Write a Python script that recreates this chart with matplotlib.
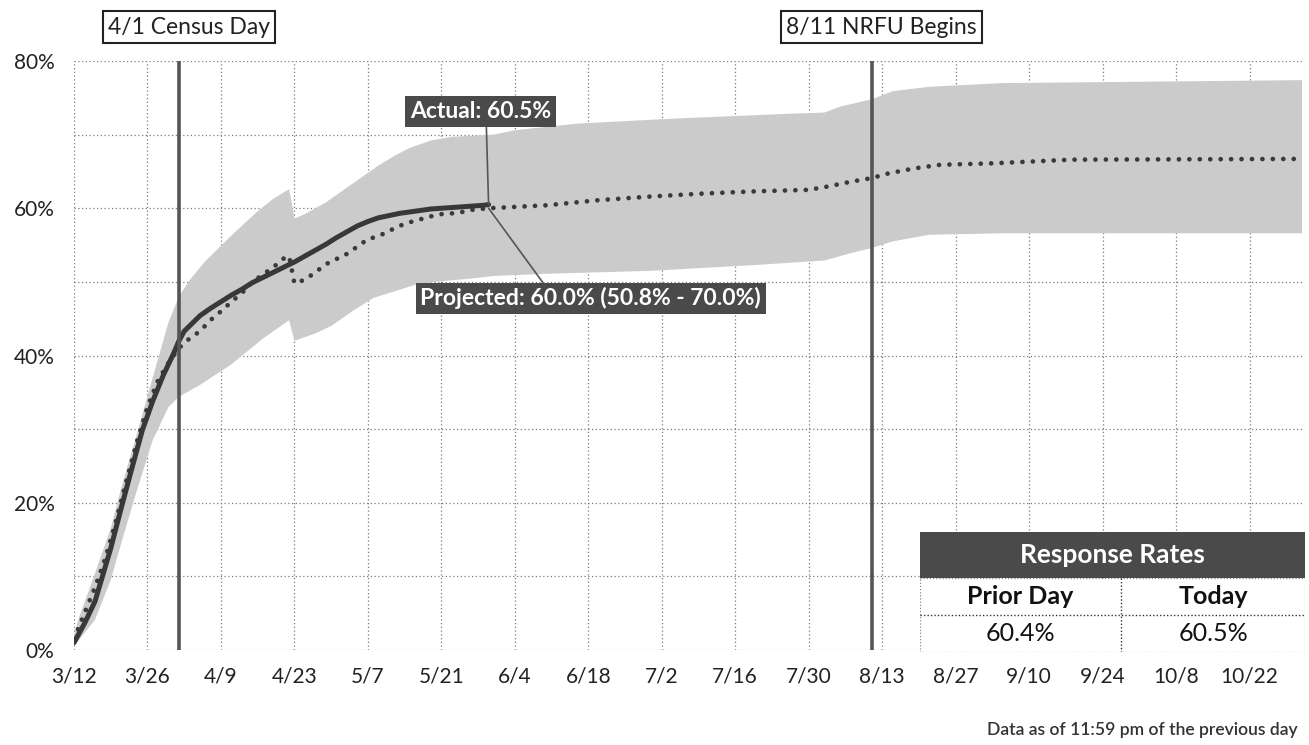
import matplotlib
matplotlib.use("Agg")
import matplotlib.pyplot as plt
import matplotlib.dates as mdates
import pandas as pd
import numpy as np
from matplotlib.patches import Rectangle

plt.rcParams['font.family'] = ['Lato', 'DejaVu Sans']

YEAR = 2020

# ---------------- data ----------------
actual_dates = ['3/12', '3/14', '3/16', '3/17', '3/19', '3/21', '3/23', '3/25', '3/27', '3/29',
                '3/31', '4/1', '4/2', '4/3', '4/5', '4/7', '4/9', '4/11', '4/13', '4/15',
                '4/17', '4/19', '4/21', '4/23', '4/25', '4/27', '4/29', '5/1', '5/3', '5/5',
                '5/7', '5/9', '5/11', '5/13', '5/15', '5/17', '5/19', '5/21', '5/23', '5/25',
                '5/27', '5/29', '5/30']
actual_vals = [1.0, 3.6, 6.6, 9.0, 13.8, 19.3, 24.6, 29.8, 33.8, 37.3,
               40.3, 42.0, 43.3, 44.0, 45.4, 46.4, 47.3, 48.2, 49.0, 49.9,
               50.6, 51.3, 52.0, 52.7, 53.5, 54.3, 55.1, 56.0, 56.8, 57.6,
               58.2, 58.7, 59.0, 59.3, 59.5, 59.7, 59.9, 60.0, 60.1, 60.2,
               60.3, 60.4, 60.5]

proj_dates = ['3/12', '3/14', '3/16', '3/18', '3/20', '3/22', '3/24', '3/26', '3/28', '3/30',
              '4/1', '4/3', '4/5', '4/7', '4/9', '4/11', '4/13', '4/15', '4/17', '4/19',
              '4/21', '4/22', '4/23', '4/25', '4/27', '4/29', '5/1', '5/3', '5/5', '5/7',
              '5/9', '5/11', '5/13', '5/15', '5/17', '5/19', '5/21', '5/23', '5/25', '5/27',
              '5/30', '6/10', '6/20', '6/30', '7/10', '7/20', '7/30', '8/3', '8/7', '8/11',
              '8/14', '8/19', '8/24', '9/3', '9/18', '11/1']
proj_vals = [1.5, 5.0, 8.5, 12.5, 17.5, 23.0, 28.3, 33.0, 36.6, 39.0,
             41.0, 42.3, 43.3, 44.8, 46.0, 47.3, 48.5, 50.0, 51.0, 52.0,
             53.2, 53.5, 49.8, 50.3, 51.3, 52.4, 53.1, 53.8, 54.8, 55.8,
             56.2, 56.9, 57.6, 58.1, 58.5, 58.9, 59.2, 59.3, 59.5, 59.8,
             60.0, 60.4, 61.1, 61.6, 62.0, 62.3, 62.5, 63.0, 63.6, 64.1,
             64.7, 65.4, 65.9, 66.1, 66.6, 66.7]

upper_dates = ['3/12', '3/13', '3/16', '3/19', '3/21', '3/24', '3/27', '3/30', '4/1', '4/3',
               '4/6', '4/11', '4/16', '4/19', '4/22', '4/23', '4/25', '4/29', '5/3', '5/6',
               '5/9', '5/12', '5/15', '5/19', '5/23', '5/31', '6/4', '6/16', '7/5', '7/25',
               '8/2', '8/5', '8/11', '8/15', '8/22', '9/5', '11/1']
upper_vals = [2.0, 4.5, 10.4, 16.5, 22.0, 29.4, 37.0, 44.5, 48.0, 50.2,
              52.8, 56.3, 59.6, 61.3, 62.6, 58.6, 59.2, 60.8, 62.8, 64.3,
              65.8, 67.1, 68.2, 69.2, 69.7, 70.0, 70.6, 71.5, 72.2, 72.8,
              73.0, 73.8, 74.8, 75.9, 76.5, 77.0, 77.4]

lower_dates = ['3/12', '3/16', '3/19', '3/21', '3/24', '3/27', '3/30', '4/1', '4/5', '4/11',
               '4/17', '4/22', '4/23', '4/27', '4/30', '5/4', '5/8', '5/12', '5/16', '5/21',
               '5/26', '5/31', '6/10', '6/30', '7/20', '8/2', '8/7', '8/11', '8/15', '8/22',
               '9/5', '11/1']
lower_vals = [0.5, 4.1, 9.5, 14.5, 21.7, 28.5, 33.0, 34.4, 36.0, 38.8,
              42.3, 44.8, 42.0, 43.0, 44.0, 46.0, 47.8, 48.7, 49.6, 50.1,
              50.4, 50.8, 51.1, 51.5, 52.3, 52.9, 53.9, 54.6, 55.5, 56.4,
              56.6, 56.6]

event_dates = ['4/1', '8/11']
event_labels = ['4/1 Census Day', '8/11 NRFU Begins']

tick_labels = ['3/12', '3/26', '4/9', '4/23', '5/7', '5/21', '6/4', '6/18', '7/2',
               '7/16', '7/30', '8/13', '8/27', '9/10', '9/24', '10/8', '10/22']
x_start, x_end = '3/12', '11/1'

actual_label = 'Actual: 60.5%'
proj_label = 'Projected: 60.0% (50.8% - 70.0%)'
table_title = 'Response Rates'
table_cols = ['Prior Day', 'Today']
table_vals = ['60.4%', '60.5%']
footer = 'Data as of 11:59 pm of the previous day'


def to_dt(lst):
    return pd.to_datetime([f'{YEAR}/{d}' for d in lst], format='%Y/%m/%d')


a_x = to_dt(actual_dates)
p_x = to_dt(proj_dates)
u_x = to_dt(upper_dates)
l_x = to_dt(lower_dates)

# ---------------- figure ----------------
W, H, DPI = 1309, 745, 100
fig = plt.figure(figsize=(W / DPI, H / DPI), dpi=DPI)
ax = fig.add_axes([74 / W, 1 - 650 / H, 1228 / W, 589 / H])

band_color = '#cbcbcb'
dark = '#4a4a4a'

# band
bx = np.concatenate([mdates.date2num(u_x), mdates.date2num(l_x)[::-1]])
by = np.concatenate([upper_vals, lower_vals[::-1]])
ax.fill(bx, by, color=band_color, lw=0, zorder=1)

# actual & projection
ax.plot(a_x, actual_vals, color='#383838', lw=3.6, zorder=4, solid_capstyle='round')
ax.plot(p_x, proj_vals, color='#3a3a3a', lw=3.4, linestyle=(0, (0.01, 2.2)),
        dash_capstyle='round', zorder=3)

# event lines
for d, lab in zip(to_dt(event_dates), event_labels):
    ax.axvline(d, color='#555555', lw=2.6, zorder=5)
    ax.annotate(lab, xy=(mdates.date2num(d), 1.0), xycoords=('data', 'axes fraction'),
                xytext=(10, 34), textcoords='offset pixels', ha='center', va='center',
                fontsize=16.5, color='#222222',
                bbox=dict(boxstyle='square,pad=0.22', fc='white', ec='#222222', lw=1.5),
                annotation_clip=False)

# axes
ax.set_xlim(to_dt([x_start])[0], to_dt([x_end])[0])
ax.set_ylim(0, 80)
ticks = to_dt(tick_labels)
ax.set_xticks(ticks)
ax.set_xticklabels(tick_labels)
ax.set_yticks([0, 20, 40, 60, 80])
ax.set_yticklabels(['0%', '20%', '40%', '60%', '80%'])
ax.set_yticks([10, 30, 50, 70], minor=True)
ax.tick_params(axis='both', which='both', length=0, labelsize=15, colors='#222222')
ax.tick_params(axis='y', pad=14)
ax.tick_params(axis='x', pad=12)
ax.grid(True, which='both', color='#7a7a7a', lw=0.9, linestyle=(0, (1, 2)), zorder=0)
ax.set_axisbelow(True)
for s in ax.spines.values():
    s.set_visible(False)

# annotations
last_x = a_x[-1]
last_y = actual_vals[-1]
ax.annotate(actual_label, xy=(last_x, last_y), xytext=(-8, 93), textcoords='offset pixels',
            ha='center', va='center', fontsize=16.5, fontweight='bold', color='white',
            bbox=dict(boxstyle='square,pad=0.2', fc=dark, ec='none'),
            arrowprops=dict(arrowstyle='-', color='#555555', lw=1.2, relpos=(0.54, 0.0),
                            shrinkA=0, shrinkB=0), zorder=6)
pi = proj_dates.index(actual_dates[-1])
ax.annotate(proj_label, xy=(p_x[pi], proj_vals[pi]), xytext=(102, -90), textcoords='offset pixels',
            ha='center', va='center', fontsize=16.5, fontweight='bold', color='white',
            bbox=dict(boxstyle='square,pad=0.2', fc=dark, ec='none'),
            arrowprops=dict(arrowstyle='-', color='#555555', lw=1.2, relpos=(0.37, 1.0),
                            shrinkA=0, shrinkB=0), zorder=6)

# table
tx0, tx1 = 920, 1305
ty0, ty1 = 532, 652
tab = fig.add_axes([tx0 / W, 1 - ty1 / H, (tx1 - tx0) / W, (ty1 - ty0) / H])
tab.set_xlim(tx0, tx1)
tab.set_ylim(ty1, ty0)
tab.axis('off')
xmid = 1121
tab.add_patch(Rectangle((tx0, 578), tx1 - tx0, ty1 - 578, fc='white', ec='#888888', lw=0.9,
                        linestyle=(0, (1, 1.5))))
tab.add_patch(Rectangle((tx0, ty0), tx1 - tx0, 578 - ty0, fc=dark, ec='none'))
tab.plot([tx0, tx1], [615, 615], color='#333333', lw=1.0, linestyle=(0, (1, 1.5)))
tab.plot([xmid, xmid], [578, ty1], color='#333333', lw=1.0, linestyle=(0, (1, 1.5)))
tab.text((tx0 + tx1) / 2, 555, table_title, ha='center', va='center', fontsize=19,
         fontweight='bold', color='white')
for cx, c, v in zip([(tx0 + xmid) / 2, (xmid + tx1) / 2], table_cols, table_vals):
    tab.text(cx, 597, c, ha='center', va='center', fontsize=18, fontweight='bold', color='#111111')
    tab.text(cx, 634, v, ha='center', va='center', fontsize=18, color='#111111')

fig.text(1298 / W, 1 - 730 / H, footer, ha='right', va='center', fontsize=12.6,
         fontweight='semibold', color='#333333')

fig.savefig('out.png', dpi=DPI)
